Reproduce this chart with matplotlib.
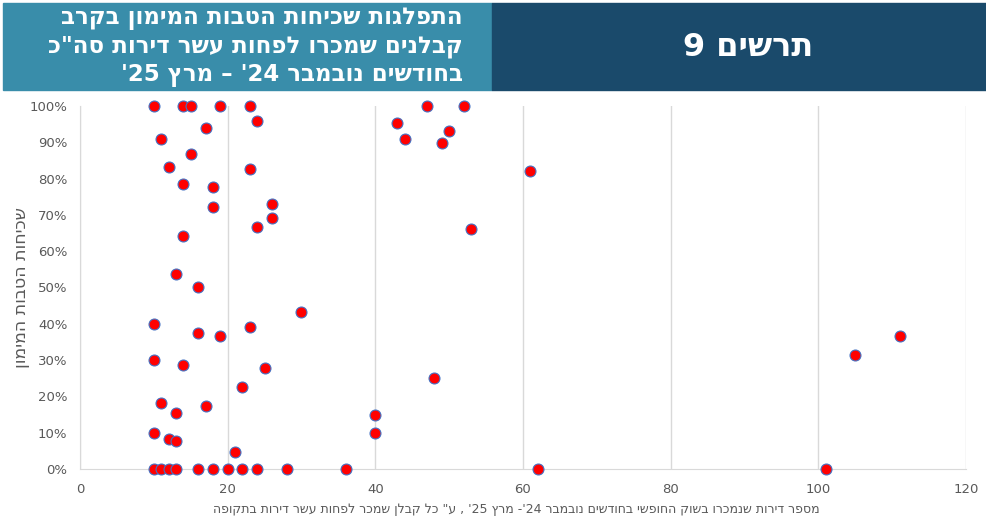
import re
import matplotlib
matplotlib.use("Agg")
import matplotlib.pyplot as plt
from matplotlib.patches import Rectangle

# apartments sold per contractor, share of deals with financing benefits
x_top = [10, 14, 15, 19, 23, 47, 52]
y_top = [1.0] * len(x_top)

x_mid = [24, 43, 17, 50, 11, 44, 49, 15, 12, 23, 61, 14, 18, 26, 18, 26, 24, 53,
         14, 13, 16, 30, 10, 23, 16, 19, 111, 105, 10, 14, 25, 48, 22, 11, 17, 13,
         40, 10, 40, 12, 13, 21]
y_mid = [0.958, 0.953, 0.940, 0.931, 0.908, 0.909, 0.898, 0.868, 0.833, 0.826,
         0.821, 0.785, 0.777, 0.730, 0.721, 0.691, 0.667, 0.661, 0.643, 0.537,
         0.502, 0.433, 0.400, 0.391, 0.375, 0.366, 0.367, 0.313, 0.300, 0.286,
         0.278, 0.250, 0.226, 0.182, 0.174, 0.154, 0.149, 0.100, 0.100, 0.083,
         0.077, 0.047]

x_zero = [10, 11, 12, 13, 16, 18, 20, 22, 24, 28, 36, 62, 101]
y_zero = [0.0] * len(x_zero)

x_ticks = [0, 20, 40, 60, 80, 100, 120]
y_ticks = [i / 10 for i in range(11)]

title_lines = ["התפלגות שכיחות הטבות המימון בקרב",
               'קבלנים שמכרו לפחות עשר דירות סה"כ',
               "בחודשים נובמבר 24' – מרץ 25'"]
chart_no = "תרשים 9"
x_label = ("מספר דירות שנמכרו בשוק החופשי בחודשים נובמבר 24'- מרץ 25' , "
           'ע" כל קבלן שמכר לפחות עשר דירות בתקופה')
y_label = "שכיחות הטבות המימון"


def vis(s):
    # matplotlib has no bidi: put hebrew in visual order, numbers stay ltr
    out = s[::-1]
    return re.sub(r"[0-9A-Za-z]+", lambda m: m.group(0)[::-1], out)


plt.rcParams["font.family"] = ["Liberation Sans Narrow", "DejaVu Sans"]

W, H = 987, 523
fig = plt.figure(figsize=(W / 100, H / 100), dpi=100)

# header boxes
fig.patches.append(Rectangle((3 / W, 1 - 90 / H), 489 / W, 87 / H,
                             transform=fig.transFigure, color="#398DAA", zorder=0))
fig.patches.append(Rectangle((492 / W, 1 - 90 / H), 495 / W, 87 / H,
                             transform=fig.transFigure, color="#1A4A6B", zorder=0))
for i, line in enumerate(title_lines):
    fig.text(463 / W, 1 - (19 + 28 * i) / H, vis(line), ha="right", va="center",
             color="white", fontsize=16.5, fontweight="bold", family="DejaVu Sans")
fig.text(748 / W, 1 - 47 / H, vis(chart_no), ha="center", va="center",
         color="white", fontsize=23, fontweight="bold", family="DejaVu Sans")

ax = fig.add_axes([80 / W, 54 / H, 886 / W, 363 / H])
pts = dict(s=62, c="#FF0000", edgecolors="#4472C4", linewidths=0.8,
           clip_on=False, zorder=3)
ax.scatter(x_zero, y_zero, **pts)
ax.scatter(x_mid, y_mid, **pts)
ax.scatter(x_top, y_top, **pts)

ax.set_xlim(0, 120)
ax.set_ylim(0, 1)
ax.set_xticks(x_ticks)
ax.set_yticks(y_ticks)
ax.set_yticklabels(["{:.0f}%".format(v * 100) for v in y_ticks])
ax.grid(axis="x", color="#D9D9D9", linewidth=1)
ax.set_axisbelow(True)
for side in ["top", "right"]:
    ax.spines[side].set_visible(False)
for side in ["left", "bottom"]:
    ax.spines[side].set_color("#D9D9D9")
ax.tick_params(length=0, colors="#595959", labelsize=9.5, pad=10)
ax.tick_params(axis="y", pad=9)

ax.set_xlabel(vis(x_label), color="#595959", fontsize=9)
ax.xaxis.set_label_coords(0.492, -0.093)
ax.set_ylabel(vis(y_label), color="#595959", fontsize=12.5)
ax.yaxis.set_label_coords(-0.056, 0.5)

fig.savefig("out.png", dpi=100)
